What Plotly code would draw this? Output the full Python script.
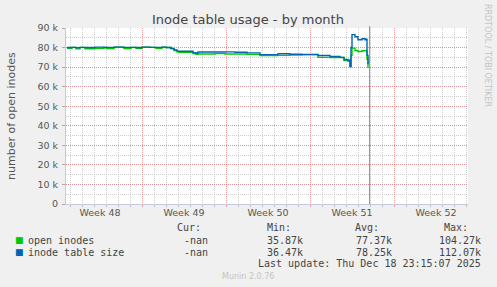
import plotly.graph_objects as go

# ---------------- data ----------------
times = [
    "2025-11-23 18:00", "2025-11-24 04:00", "2025-11-24 12:00", "2025-11-24 20:00",
    "2025-11-25 06:00", "2025-11-26 02:00", "2025-11-26 20:00", "2025-11-27 02:00",
    "2025-11-27 16:00", "2025-11-28 12:00", "2025-11-29 02:00", "2025-11-29 12:00",
    "2025-11-30 00:00", "2025-11-30 16:00", "2025-12-01 04:00", "2025-12-01 16:00",
    "2025-12-02 00:00", "2025-12-02 10:00", "2025-12-02 16:00", "2025-12-02 22:00",
    "2025-12-03 02:00", "2025-12-04 00:00", "2025-12-04 06:00", "2025-12-04 12:00",
    "2025-12-04 16:00", "2025-12-06 02:00", "2025-12-06 22:00", "2025-12-07 18:00",
    "2025-12-08 18:00", "2025-12-09 20:00", "2025-12-11 08:00", "2025-12-12 08:00",
    "2025-12-13 08:00", "2025-12-14 16:00", "2025-12-15 16:00", "2025-12-16 12:00",
    "2025-12-16 20:00", "2025-12-17 04:00", "2025-12-17 08:00", "2025-12-17 10:00",
    "2025-12-17 12:00", "2025-12-17 18:00", "2025-12-18 00:00", "2025-12-18 08:00",
    "2025-12-18 14:00", "2025-12-18 16:00", "2025-12-18 18:00", "2025-12-18 20:00",
]
inode_table_size = [
    80000, 80100, 79900, 80100, 80000, 80200, 80000, 80100,
    80200, 80100, 80100, 80000, 80200, 80100, 80100, 80200,
    80000, 79600, 78800, 78200, 78100, 78100, 77400, 77100,
    77700, 77700, 77800, 77600, 77300, 76400, 76800, 76600,
    76500, 75900, 75400, 75000, 73900, 73500, 70300, 80000,
    86600, 85500, 84000, 84500, 84000, 84300, 76000, 71500,
]
open_inodes = [
    79600, 80100, 79300, 80100, 79400, 79600, 80000, 79500,
    80200, 79500, 80100, 79600, 80200, 80100, 79600, 80200,
    80000, 79300, 78500, 77800, 77600, 77600, 76900, 76600,
    76700, 76900, 76700, 76700, 76500, 75900, 76000, 76200,
    76300, 75000, 74900, 74900, 73300, 73000, 70300, 76000,
    79700, 78500, 78000, 78400, 78300, 78400, 74000, 69500,
]

x_range = ["2025-11-23 16:00", "2025-12-27 04:00"]
week_ticks = ["2025-11-26 12:00", "2025-12-03 12:00", "2025-12-10 12:00",
              "2025-12-17 12:00", "2025-12-24 12:00"]
week_labels = ["Week 48", "Week 49", "Week 50", "Week 51", "Week 52"]
week_start = "2025-11-30"
y_ticks = [0, 10000, 20000, 30000, 40000, 50000, 60000, 70000, 80000, 90000]
y_labels = ["0", "10 k", "20 k", "30 k", "40 k", "50 k", "60 k", "70 k", "80 k", "90 k"]
last_update = "2025-12-18 23:15:07"

series_names = ["open inodes", "inode table size"]
series_colors = ["#00cc00", "#0066b3"]
stat_cur = ["-nan", "-nan"]
stat_min = ["35.87k", "36.47k"]
stat_avg = ["77.37k", "78.25k"]
stat_max = ["104.27k", "112.07k"]

# ---------------- layout helpers ----------------
W, H = 497, 287
L, R, T, B = 66, 29, 28, 83
PW, PH = W - L - R, H - T - B


def px(x):
    return (x - L) / PW


def py(y):
    return (H - B - y) / PH


fig = go.Figure()
fig.add_trace(go.Scatter(x=times, y=open_inodes, mode="lines", name=series_names[0],
                         line=dict(color=series_colors[0], width=1.4, shape="hv"),
                         hoverinfo="skip"))
fig.add_trace(go.Scatter(x=times, y=inode_table_size, mode="lines", name=series_names[1],
                         line=dict(color=series_colors[1], width=1.4, shape="hv"),
                         hoverinfo="skip"))
# empty trace to register the grid axis
fig.add_trace(go.Scatter(x=[], y=[], xaxis="x2", showlegend=False, hoverinfo="skip"))

axis_col = "#c4c8e0"
major_grid = "rgba(230,120,120,0.7)"
minor_grid = "rgba(160,160,160,0.5)"
tick_font = dict(family="DejaVu Sans", size=9.5, color="#555555")

fig.update_layout(
    width=W, height=H,
    margin=dict(l=L, r=R, t=T, b=B, pad=0),
    paper_bgcolor="#f0f0f0", plot_bgcolor="#ffffff",
    showlegend=False,
    xaxis=dict(type="date", range=x_range, tickmode="array", tickvals=week_ticks,
               ticktext=week_labels, showgrid=False, zeroline=False, ticks="",
               showline=True, linecolor=axis_col, linewidth=1, tickfont=tick_font,
               fixedrange=True),
    xaxis2=dict(type="date", range=x_range, overlaying="x", side="bottom",
                showticklabels=False, tick0=week_start, dtick=7 * 86400000,
                showgrid=True, gridcolor=major_grid, griddash="1px,1px", gridwidth=1,
                ticks="outside", ticklen=2, tickcolor=major_grid,
                minor=dict(dtick=86400000, showgrid=True, gridcolor=minor_grid,
                           griddash="1px,1px", ticks="outside", ticklen=2,
                           tickcolor="#bbbbbb"),
                zeroline=False, showline=False),
    yaxis=dict(range=[0, 90000], tickmode="array", tickvals=y_ticks, ticktext=y_labels,
               showgrid=True, gridcolor=major_grid, griddash="1px,1px", gridwidth=1,
               minor=dict(dtick=5000, showgrid=True, gridcolor=minor_grid,
                          griddash="1px,1px"),
               zeroline=False, showline=True, linecolor=axis_col, linewidth=1,
               ticks="outside", ticklen=3, tickcolor="#aaaaaa", tickfont=tick_font,
               ticklabelstandoff=2),
)

fig.add_shape(type="line", x0=last_update, x1=last_update, xref="x", y0=0, y1=1.01,
              yref="paper", line=dict(color="#888888", width=1))

ann = []
ann.append(dict(text="Inode table usage - by month", x=px(248), y=py(19), xref="paper",
                yref="paper", showarrow=False, xanchor="center", yanchor="middle",
                font=dict(family="DejaVu Sans", size=13, color="#444444")))
ann.append(dict(text="number of open inodes", x=px(11), y=py(116), xref="paper",
                yref="paper", showarrow=False, textangle=-90, xanchor="center",
                yanchor="middle", font=dict(family="DejaVu Sans", size=11, color="#555555")))
ann.append(dict(text="RRDTOOL / TOBI OETIKER", x=px(488), y=py(55), xref="paper",
                yref="paper", showarrow=False, textangle=90, xanchor="center",
                yanchor="middle", font=dict(family="DejaVu Sans", size=8, color="#c4c4c4")))

mono = dict(family="DejaVu Sans Mono", size=10, color="#444444")
for txt, xr in [("Cur:", 203), ("Min:", 293), ("Avg:", 381), ("Max:", 470)]:
    ann.append(dict(text=txt, x=px(xr), y=py(228), xref="paper", yref="paper",
                    showarrow=False, xanchor="right", yanchor="middle", font=mono))
rows_y = [240, 252]
for i in range(2):
    yy = py(rows_y[i])
    ann.append(dict(text="■", x=px(13), y=yy, xref="paper", yref="paper",
                    showarrow=False, xanchor="left", yanchor="middle",
                    font=dict(family="DejaVu Sans", size=9, color=series_colors[i])))
    ann.append(dict(text=series_names[i], x=px(26), y=yy, xref="paper", yref="paper",
                    showarrow=False, xanchor="left", yanchor="middle", font=mono))
    for val, xr in [(stat_cur[i], 210), (stat_min[i], 305), (stat_avg[i], 394),
                    (stat_max[i], 483)]:
        ann.append(dict(text=val, x=px(xr), y=yy, xref="paper", yref="paper",
                        showarrow=False, xanchor="right", yanchor="middle", font=mono))
ann.append(dict(text="Last update: Thu Dec 18 23:15:07 2025", x=px(483), y=py(263.5),
                xref="paper", yref="paper", showarrow=False, xanchor="right",
                yanchor="middle", font=mono))
ann.append(dict(text="Munin 2.0.76", x=px(248), y=py(276.5), xref="paper", yref="paper",
                showarrow=False, xanchor="center", yanchor="middle",
                font=dict(family="DejaVu Sans", size=8, color="#c4c4c4")))
fig.update_layout(annotations=ann)

fig.write_html("out.html", config={"displayModeBar": False})
